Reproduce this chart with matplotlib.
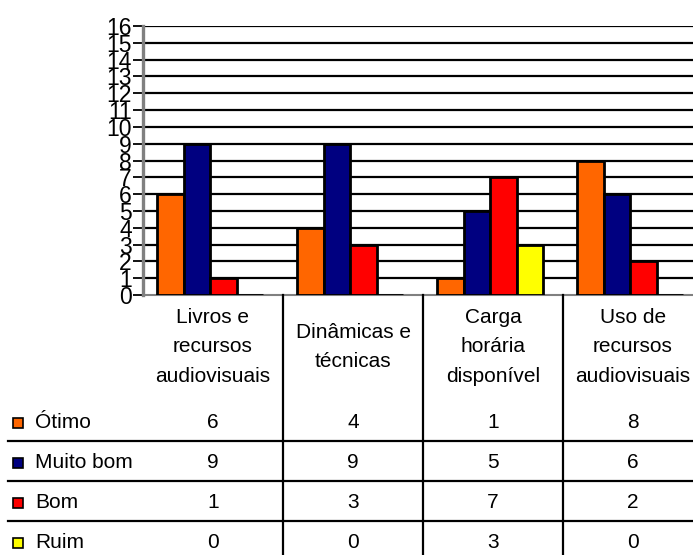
import matplotlib
matplotlib.use("Agg")
import matplotlib.pyplot as plt
import matplotlib.transforms as mtransforms
import numpy as np

plt.rcParams["font.family"] = ["Liberation Sans", "DejaVu Sans"]

categories = ["Livros e\nrecursos\naudiovisuais", "Dinâmicas e\ntécnicas",
              "Carga\nhorária\ndisponível", "Uso de\nrecursos\naudiovisuais"]
series_names = ["Ótimo", "Muito bom", "Bom", "Ruim"]
otimo = [6, 4, 1, 8]
muito_bom = [9, 9, 5, 6]
bom = [1, 3, 7, 2]
ruim = [0, 0, 3, 0]
series_values = [otimo, muito_bom, bom, ruim]
colors = ["#FF6600", "#000080", "#FF0000", "#FFFF00"]
y_ticks = list(range(0, 17))

W, H = 693, 555
fig = plt.figure(figsize=(W / 100, H / 100), dpi=100)
fig.patch.set_facecolor("white")

# Bar chart area (extends a little past the right edge)
px_left, px_right, px_top, px_bottom = 143, 703, 26, 295
ax = fig.add_axes([px_left / W, (H - px_bottom) / H,
                   (px_right - px_left) / W, (px_bottom - px_top) / H])
ax.set_xlim(-0.5, len(categories) - 0.5)
ax.set_ylim(0, 16)

x = np.arange(len(categories))
bw = 0.19
shift = -0.02
for j, (vals, col) in enumerate(zip(series_values, colors)):
    ax.bar(x + shift + (j - 1.5) * bw, vals, width=bw, color=col,
           edgecolor="black", linewidth=2.0, zorder=3)

ax.set_yticks(y_ticks)
ax.set_yticklabels([str(t) for t in y_ticks], fontsize=16.5)
ax.tick_params(axis="y", length=7, width=1.3, color="black", pad=1)
ax.set_xticks([])
for yv in y_ticks[1:]:
    ax.axhline(yv, color="black", linewidth=1.6, zorder=1)
for s in ["top", "right"]:
    ax.spines[s].set_visible(False)
ax.spines["left"].set_color("#808080")
ax.spines["left"].set_linewidth(2.4)
ax.spines["bottom"].set_color("#808080")
ax.spines["bottom"].set_linewidth(1.5)

# Data table underneath, sharing the category positions of the chart
tab = fig.add_axes([0, 0, 1, (H - px_bottom) / H])
tab.set_xlim(0, W)
tab.set_ylim(H, px_bottom)
tab.axis("off")
blend = mtransforms.blended_transform_factory(ax.transData, tab.transData)

for b in np.arange(len(categories) - 1) + 0.5:
    tab.plot([b, b], [px_bottom, H], color="black", linewidth=1.6,
             transform=blend, clip_on=False)

for i, cat in enumerate(categories):
    tab.text(i, 347, cat, transform=blend, ha="center", va="center",
             fontsize=15, linespacing=1.7)

row_centers = [423, 463, 503, 543]
for r, (name, vals, col) in enumerate(zip(series_names, series_values, colors)):
    yc = row_centers[r]
    tab.plot([17.5], [yc], marker="s", markersize=7, markerfacecolor=col,
             markeredgecolor="black", markeredgewidth=1.2, clip_on=False)
    tab.text(35, yc, name, ha="left", va="center", fontsize=15)
    for i, v in enumerate(vals):
        tab.text(i, yc, str(v), transform=blend, ha="center", va="center",
                 fontsize=15)
    if r < len(series_names) - 1:
        tab.plot([8, W], [yc + 18, yc + 18], color="black", linewidth=1.6,
                 clip_on=False)

fig.savefig("out.png", dpi=100, facecolor="white")
